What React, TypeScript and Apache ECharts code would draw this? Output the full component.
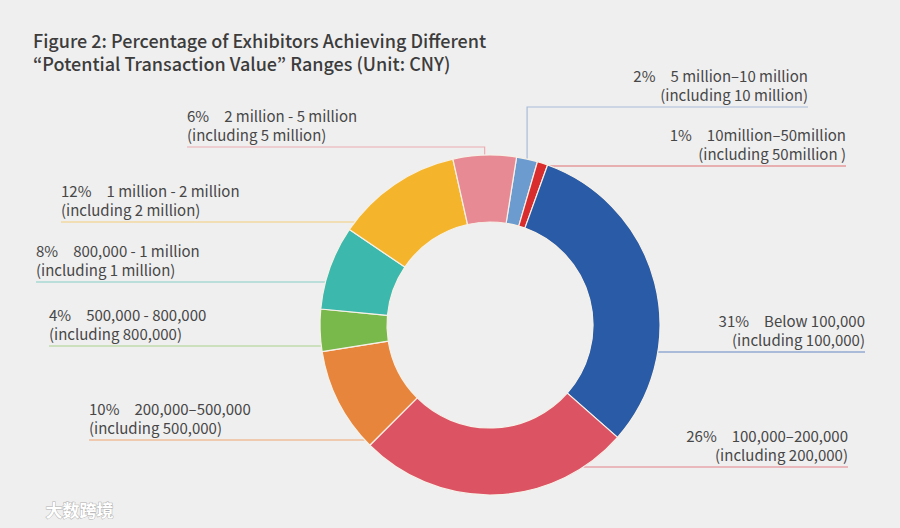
import React, { useEffect, useRef } from "react";
import * as echarts from "echarts";

// ---- data ----
const RANGE_NAMES = [
  "5 million–10 million",
  "10million–50million",
  "Below 100,000",
  "100,000–200,000",
  "200,000–500,000",
  "500,000 - 800,000",
  "800,000 - 1 million",
  "1 million - 2 million",
  "2 million - 5 million",
];
const RANGE_NOTES = [
  "(including 10 million)",
  "(including 50million )",
  "(including 100,000)",
  "(including 200,000)",
  "(including 500,000)",
  "(including 800,000)",
  "(including 1 million)",
  "(including 2 million)",
  "(including 5 million)",
];
const PERCENTS = [2, 1, 31, 26, 10, 4, 8, 12, 6];

// ---- styles ----
const COLORS = [
  "#6c9ccf",
  "#d92d2d",
  "#2a5ba6",
  "#dc5364",
  "#e8853c",
  "#79b84b",
  "#3cb8ac",
  "#f4b52d",
  "#e88a94",
];
const LINE_COLORS = [
  "#a8bcd8",
  "#e07070",
  "#6688c4",
  "#e4828b",
  "#f0a66e",
  "#a9d18d",
  "#86d0c8",
  "#f4cd7c",
  "#eeabb3",
];

// ---- layout (callout placement) ----
const CX = 490;
const CY = 325;
const R_OUT = 170;
const R_IN = 103;
const CALLOUT_LINE_Y = [107, 166, 352, 467, 440, 346, 282, 222, 147];
const CALLOUT_EDGE_X = [808, 846, 865, 848, 89, 49, 36, 61, 187];

const FONT = "'Noto Sans CJK KR', 'Noto Sans CJK SC', 'Noto Sans', sans-serif";
const FONT_CN = "'Noto Sans CJK SC', sans-serif";

export default function App() {
  const ref = useRef<HTMLDivElement>(null);

  useEffect(() => {
    if (!ref.current) return;
    const chart = echarts.init(ref.current, undefined, { renderer: "svg" });

    const data = PERCENTS.map((v, i) => ({
      value: v,
      name: RANGE_NAMES[i],
      itemStyle: { color: COLORS[i] },
      labelLine: { lineStyle: { color: LINE_COLORS[i] } },
    }));

    chart.setOption({
      animation: false,
      backgroundColor: "#efefef",
      title: {
        text:
          "Figure 2: Percentage of Exhibitors Achieving Different\n“Potential Transaction Value” Ranges (Unit: CNY)",
        left: 28,
        top: 23,
        textStyle: {
          fontFamily: FONT,
          fontSize: 18,
          lineHeight: 23.5,
          fontWeight: 500,
          color: "#3c3c3c",
        },
      },
      graphic: [
        {
          type: "text",
          left: 45,
          top: 500,
          style: {
            text: "大数跨境",
            fontFamily: FONT_CN,
            fontSize: 17,
            fontWeight: "bold",
            fill: "#ffffff",
            stroke: "#b0b0b0",
            lineWidth: 1,
          },
        },
      ],
      series: [
        {
          type: "pie",
          center: [CX, CY],
          radius: [R_IN, R_OUT],
          startAngle: 81,
          clockwise: true,
          avoidLabelOverlap: false,
          itemStyle: { borderColor: "#f6f1e8", borderWidth: 1.2 },
          label: {
            show: true,
            position: "outside",
            fontFamily: FONT,
            fontSize: 15,
            lineHeight: 19,
            color: "#474747",
            formatter: (p: any) =>
              `${PERCENTS[p.dataIndex]}%\u3000${RANGE_NAMES[p.dataIndex]}\n${RANGE_NOTES[p.dataIndex]}`,
          },
          labelLine: {
            show: true,
            smooth: false,
            length: 10,
            length2: 10,
            lineStyle: { width: 1.2 },
          },
          emphasis: { disabled: true },
          labelLayout: (params: any) => {
            const i = params.dataIndex;
            const lineY = CALLOUT_LINE_Y[i];
            const edgeX = CALLOUT_EDGE_X[i];
            const isRight = edgeX > CX;
            const anchor =
              params.labelLinePoints && params.labelLinePoints[0]
                ? params.labelLinePoints[0]
                : [CX, CY - R_OUT];
            const dy = lineY - CY;
            let pts: number[][];
            if (Math.abs(dy) < R_OUT) {
              const dx = Math.sqrt(R_OUT * R_OUT - dy * dy);
              const sx = isRight ? CX + dx : CX - dx;
              pts = [
                [sx, lineY],
                [(sx + edgeX) / 2, lineY],
                [edgeX, lineY],
              ];
            } else {
              pts = [
                [anchor[0], anchor[1]],
                [anchor[0], lineY],
                [edgeX, lineY],
              ];
            }
            return {
              x: edgeX,
              y: lineY - 3,
              align: isRight ? "right" : "left",
              verticalAlign: "bottom",
              labelLinePoints: pts,
            };
          },
          data,
        },
      ],
    });

    return () => chart.dispose();
  }, []);

  return (
    <div
      ref={ref}
      style={{ position: "fixed", left: 0, top: 0, width: 900, height: 528 }}
    />
  );
}
